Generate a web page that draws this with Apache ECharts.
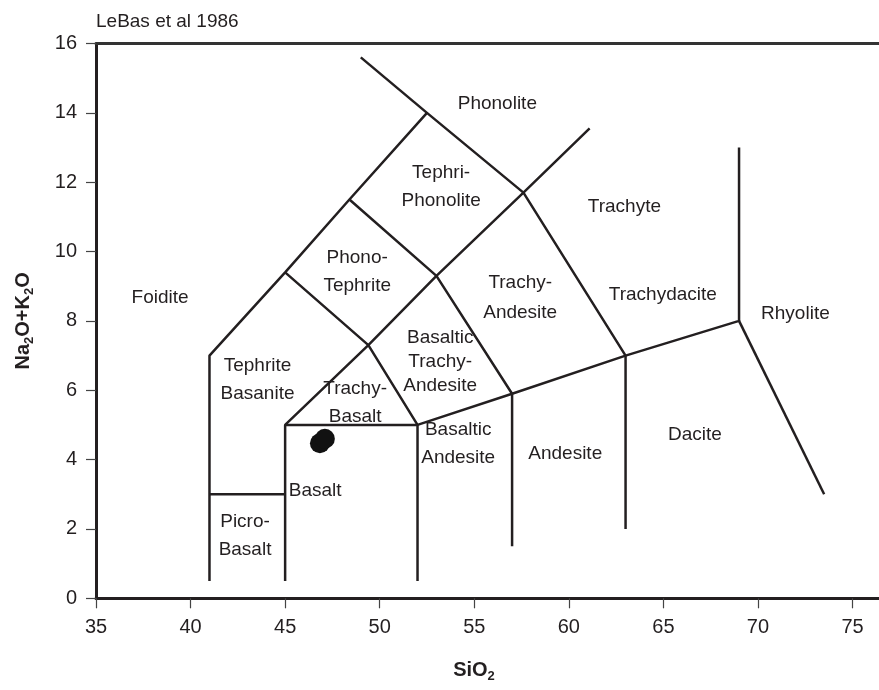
<!DOCTYPE html>
<html>
<head>
<meta charset="utf-8">
<title>TAS diagram</title>
<script src="https://cdn.jsdelivr.net/npm/echarts@6/dist/echarts.min.js"></script>
<style>
    html, body { margin: 0; padding: 0; background: #fff; }
    #chart { width: 879px; height: 690px; }
</style>
</head>
<body>
<div id="chart"></div>
<script>
    // tick labels
    var xTicks = [35, 40, 45, 50, 55, 60, 65, 70, 75];
    var yTicks = [0, 2, 4, 6, 8, 10, 12, 14, 16];

    // field boundaries (SiO2, Na2O+K2O), LeBas et al 1986
    var boundaries = [
        [[41, 0.5], [41, 7], [45, 9.4], [48.4, 11.5], [52.5, 14], [57.6, 11.7], [63, 7], [69, 8], [69, 13]],
        [[49, 15.6], [52.5, 14]],
        [[45, 0.5], [45, 5], [49.4, 7.3], [53, 9.3], [57.6, 11.7], [61.1, 13.55]],
        [[45, 9.4], [49.4, 7.3], [52, 5], [57, 5.9], [63, 7]],
        [[48.4, 11.5], [53, 9.3], [57, 5.9], [57, 1.5]],
        [[41, 3], [45, 3]],
        [[45, 5], [52, 5], [52, 0.5]],
        [[63, 7], [63, 2]],
        [[69, 8], [73.5, 3]]
    ];

    // samples
    var sampleSiO2 = [46.84, 47.1];
    var sampleAlk = [4.47, 4.6];

    // field names and where they sit
    var fieldNames = ['Foidite', 'Phonolite', 'Tephri-\nPhonolite', 'Phono-\nTephrite', 'Trachyte',
        'Trachy-\nAndesite', 'Trachydacite', 'Rhyolite', 'Tephrite\nBasanite', 'Basaltic\nTrachy-\nAndesite',
        'Trachy-\nBasalt', 'Basaltic\nAndesite', 'Andesite', 'Dacite', 'Basalt', 'Picro-\nBasalt'];
    var fieldX = [38.39, 56.22, 53.25, 48.81, 62.94, 57.43, 64.97, 71.98, 43.54, 53.2,
        48.7, 54.15, 59.81, 66.67, 46.59, 42.88];
    var fieldY = [8.66, 14.26, 11.88, 9.42, 11.28, 8.66, 8.74, 8.22, 6.31, 6.82,
        5.65, 4.46, 4.18, 4.73, 3.09, 1.8];

    var lineHeights = {'Basaltic\nTrachy-\nAndesite': 24, 'Trachy-\nAndesite': 30};

    var ink = '#231f20';
    var font = 'Liberation Sans, Arial, sans-serif';

    var chart = echarts.init(document.getElementById('chart'));

    var series = boundaries.map(function (b) {
        return {
            type: 'line',
            data: b,
            symbol: 'none',
            silent: true,
            lineStyle: {color: ink, width: 2.5},
            z: 3
        };
    });

    series.push({
        type: 'scatter',
        data: sampleSiO2.map(function (x, i) { return [x, sampleAlk[i]]; }),
        symbol: 'circle',
        symbolSize: 20,
        itemStyle: {color: '#111', opacity: 1},
        z: 5
    });

    series.push({
        type: 'scatter',
        symbolSize: 1,
        itemStyle: {color: 'transparent', opacity: 1},
        silent: true,
        data: fieldNames.map(function (n, i) {
            return {
                name: n,
                value: [fieldX[i], fieldY[i]],
                label: {lineHeight: lineHeights[n] || 28}
            };
        }),
        label: {
            show: true,
            position: 'inside',
            formatter: '{b}',
            color: ink,
            fontSize: 19,
            fontFamily: font,
            align: 'center',
            verticalAlign: 'middle'
        },
        z: 4
    });

    chart.setOption({
        animation: false,
        backgroundColor: '#fff',
        title: {
            text: 'LeBas et al 1986',
            left: 96,
            top: 12,
            padding: 0,
            textStyle: {fontSize: 19, fontWeight: 'normal', color: ink, fontFamily: font}
        },
        grid: {left: 96, right: 0, top: 43.5, bottom: 91.7, outerBoundsMode: 'none', containLabel: false},
        xAxis: [
            {
                type: 'value',
                min: 35,
                max: 76.4,
                interval: 5,
                axisLine: {lineStyle: {color: ink, width: 3}},
                axisTick: {length: 10, lineStyle: {color: '#444', width: 1.2}},
                axisLabel: {
                    margin: 19,
                    fontSize: 20,
                    color: ink,
                    fontFamily: font,
                    showMaxLabel: false,
                    formatter: function (v) { return xTicks.indexOf(v) >= 0 ? String(v) : ''; }
                },
                splitLine: {show: false}
            },
            {
                type: 'value',
                position: 'top',
                min: 35,
                max: 76.4,
                axisLine: {show: true, lineStyle: {color: '#333', width: 3}},
                axisTick: {show: false},
                axisLabel: {show: false},
                splitLine: {show: false}
            }
        ],
        yAxis: {
            type: 'value',
            min: 0,
            max: 16,
            interval: 2,
            name: '{n|Na}{s|2}{n|O+K}{s|2}{n|O}',
            nameLocation: 'middle',
            nameRotate: 90,
            nameGap: 60,
            nameTextStyle: {
                rich: {
                    n: {fontSize: 20, fontWeight: 'bold', color: ink, fontFamily: font},
                    s: {fontSize: 13, fontWeight: 'bold', color: ink, fontFamily: font, padding: [12, 0, 0, 0]}
                }
            },
            axisLine: {show: true, lineStyle: {color: ink, width: 3}},
            axisTick: {show: true, length: 10, lineStyle: {color: '#444', width: 1.2}},
            axisLabel: {
                margin: 19,
                fontSize: 20,
                color: ink,
                fontFamily: font,
                formatter: function (v) { return yTicks.indexOf(v) >= 0 ? String(v) : ''; }
            },
            splitLine: {show: false}
        },
        graphic: [{
            type: 'text',
            x: 474,
            y: 670,
            style: {
                text: '{n|SiO}{s|2}',
                align: 'center',
                verticalAlign: 'middle',
                rich: {
                    n: {fontSize: 20, fontWeight: 'bold', fill: ink, fontFamily: font},
                    s: {fontSize: 13, fontWeight: 'bold', fill: ink, fontFamily: font, padding: [12, 0, 0, 0]}
                }
            }
        }],
        series: series
    });
</script>
</body>
</html>
